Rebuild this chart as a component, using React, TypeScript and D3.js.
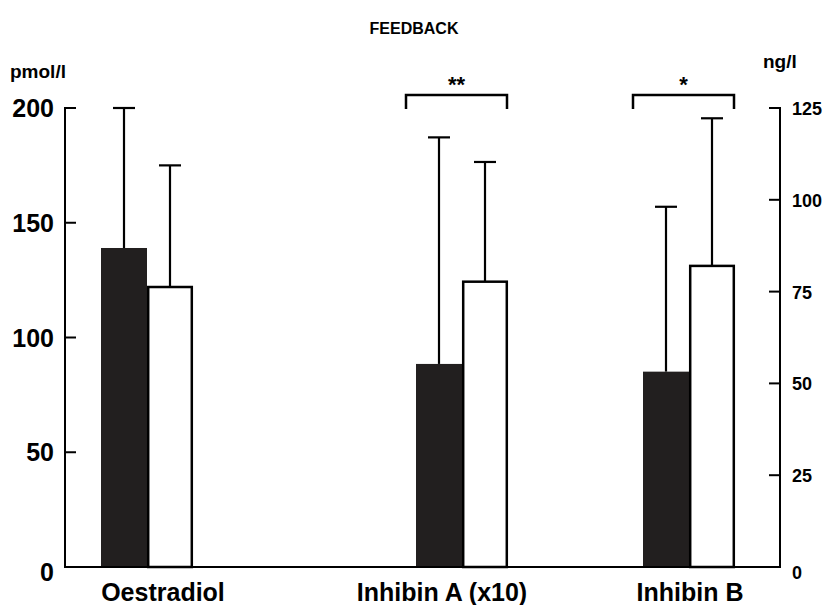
import React from "react";
import * as d3 from "d3";

// Hormone measurements (mean + SD), two groups per hormone
const categories = ["Oestradiol", "Inhibin A (x10)", "Inhibin B"];
const seriesKeys = ["filled", "open"];
const filledMean = [139, 55.3, 53.2];
const filledSD = [61, 61.7, 44.9];
const openMean = [122, 77.7, 82.0];
const openSD = [53, 32.6, 40.2];
// Which axis each hormone is read against
const axisFor = ["left", "right", "right"];
const significance = ["", "**", "*"];

const leftTicks = [0, 50, 100, 150, 200];
const rightTicks = [0, 25, 50, 75, 100, 125];

// Layout
const W = 828;
const H = 605;
const plotLeft = 65;
const plotRight = 780;
const plotTop = 108;
const plotBottom = 567;
const groupCenters = [147, 462, 689];
const labelShift = [16, -20, 1];
const groupWidth = 92;
const FONT = "'Liberation Sans', Arial, Helvetica, sans-serif";
const INK = "#000";
const DARK = "#221f1f";

export default function App() {
  const yLeft = d3.scaleLinear().domain([0, 200]).range([plotBottom, plotTop]);
  const yRight = d3.scaleLinear().domain([0, 125]).range([plotBottom, plotTop]);
  const xGroup = d3.scaleOrdinal<string, number>().domain(categories).range(groupCenters);
  const xSub = d3
    .scaleBand<string>()
    .domain(seriesKeys)
    .range([-groupWidth / 2, groupWidth / 2])
    .padding(0);

  const means: Record<string, number[]> = { filled: filledMean, open: openMean };
  const sds: Record<string, number[]> = { filled: filledSD, open: openSD };

  const bars = categories.flatMap((cat, i) =>
    seriesKeys.map((key) => {
      const y = axisFor[i] === "left" ? yLeft : yRight;
      const m = means[key][i];
      const sd = sds[key][i];
      const x0 = xGroup(cat) + (xSub(key) as number);
      return { cat, key, x0, w: xSub.bandwidth(), yTop: y(m), yErr: y(m + sd) };
    })
  );

  const capHalf = 11;
  const tickLen = 11;

  return (
    <svg
      width={W}
      height={H}
      style={{ position: "absolute", left: 0, top: 0, background: "#fff" }}
      fontFamily={FONT}
      fontWeight="bold"
    >
      <rect x={0} y={0} width={W} height={H} fill="#fff" />
      <text x={W / 2} y={34} textAnchor="middle" fontSize={16} fill={INK}>
        FEEDBACK
      </text>
      <text x={10} y={78} fontSize={19} fill={INK}>
        pmol/l
      </text>
      <text x={763} y={68} fontSize={19} fill={INK}>
        ng/l
      </text>

      {/* error bars (upper only) */}
      {bars.map((b) => {
        const cx = b.x0 + b.w / 2;
        return (
          <g key={`e-${b.cat}-${b.key}`} stroke={INK} strokeWidth={2.2}>
            <line x1={cx} x2={cx} y1={b.yTop} y2={b.yErr} />
            <line x1={cx - capHalf} x2={cx + capHalf} y1={b.yErr} y2={b.yErr} />
          </g>
        );
      })}

      {/* bars */}
      {bars.map((b) =>
        b.key === "filled" ? (
          <rect
            key={`b-${b.cat}-${b.key}`}
            x={b.x0}
            y={b.yTop}
            width={b.w}
            height={plotBottom - b.yTop}
            fill={DARK}
          />
        ) : (
          <rect
            key={`b-${b.cat}-${b.key}`}
            x={b.x0 + 1.2}
            y={b.yTop}
            width={b.w - 2.4}
            height={plotBottom - b.yTop}
            fill="#fff"
            stroke={INK}
            strokeWidth={2.5}
          />
        )
      )}

      {/* significance brackets */}
      {categories.map((cat, i) => {
        if (!significance[i]) return null;
        const l = xGroup(cat) - groupWidth / 2 - 10;
        const r = xGroup(cat) + groupWidth / 2 - 1;
        const top = 95;
        const leg = 109;
        return (
          <g key={`s-${cat}`}>
            <path
              d={`M${l},${leg}V${top}H${r}V${leg}`}
              fill="none"
              stroke={INK}
              strokeWidth={2.5}
            />
            <text x={(l + r) / 2} y={92} textAnchor="middle" fontSize={22} fill={INK}>
              {significance[i]}
            </text>
          </g>
        );
      })}

      {/* axes */}
      <g stroke={INK} strokeWidth={2}>
        <line x1={plotLeft} x2={plotLeft} y1={plotTop - 1} y2={plotBottom} />
        <line x1={plotRight} x2={plotRight} y1={plotTop - 1} y2={plotBottom} />
        <line x1={plotLeft - 1} x2={plotRight + 1} y1={plotBottom} y2={plotBottom} />
        {leftTicks.map((t) => (
          <line key={`lt-${t}`} x1={plotLeft} x2={plotLeft + tickLen} y1={yLeft(t)} y2={yLeft(t)} />
        ))}
        {rightTicks.map((t) => (
          <line key={`rt-${t}`} x1={plotRight - tickLen} x2={plotRight} y1={yRight(t)} y2={yRight(t)} />
        ))}
      </g>
      {leftTicks.map((t) => (
        <text
          key={`ll-${t}`}
          x={54}
          y={yLeft(t) + (t === 0 ? 14 : 9)}
          textAnchor="end"
          fontSize={25}
          fill={INK}
        >
          {t}
        </text>
      ))}
      {rightTicks.map((t) => (
        <text key={`rl-${t}`} x={792} y={yRight(t) + (t === 0 ? 12 : 7)} fontSize={18} fill={INK}>
          {t}
        </text>
      ))}

      {/* category labels */}
      {categories.map((cat, i) => (
        <text
          key={`c-${cat}`}
          x={xGroup(cat) + labelShift[i]}
          y={601}
          textAnchor="middle"
          fontSize={25}
          fill={INK}
        >
          {cat}
        </text>
      ))}
    </svg>
  );
}
